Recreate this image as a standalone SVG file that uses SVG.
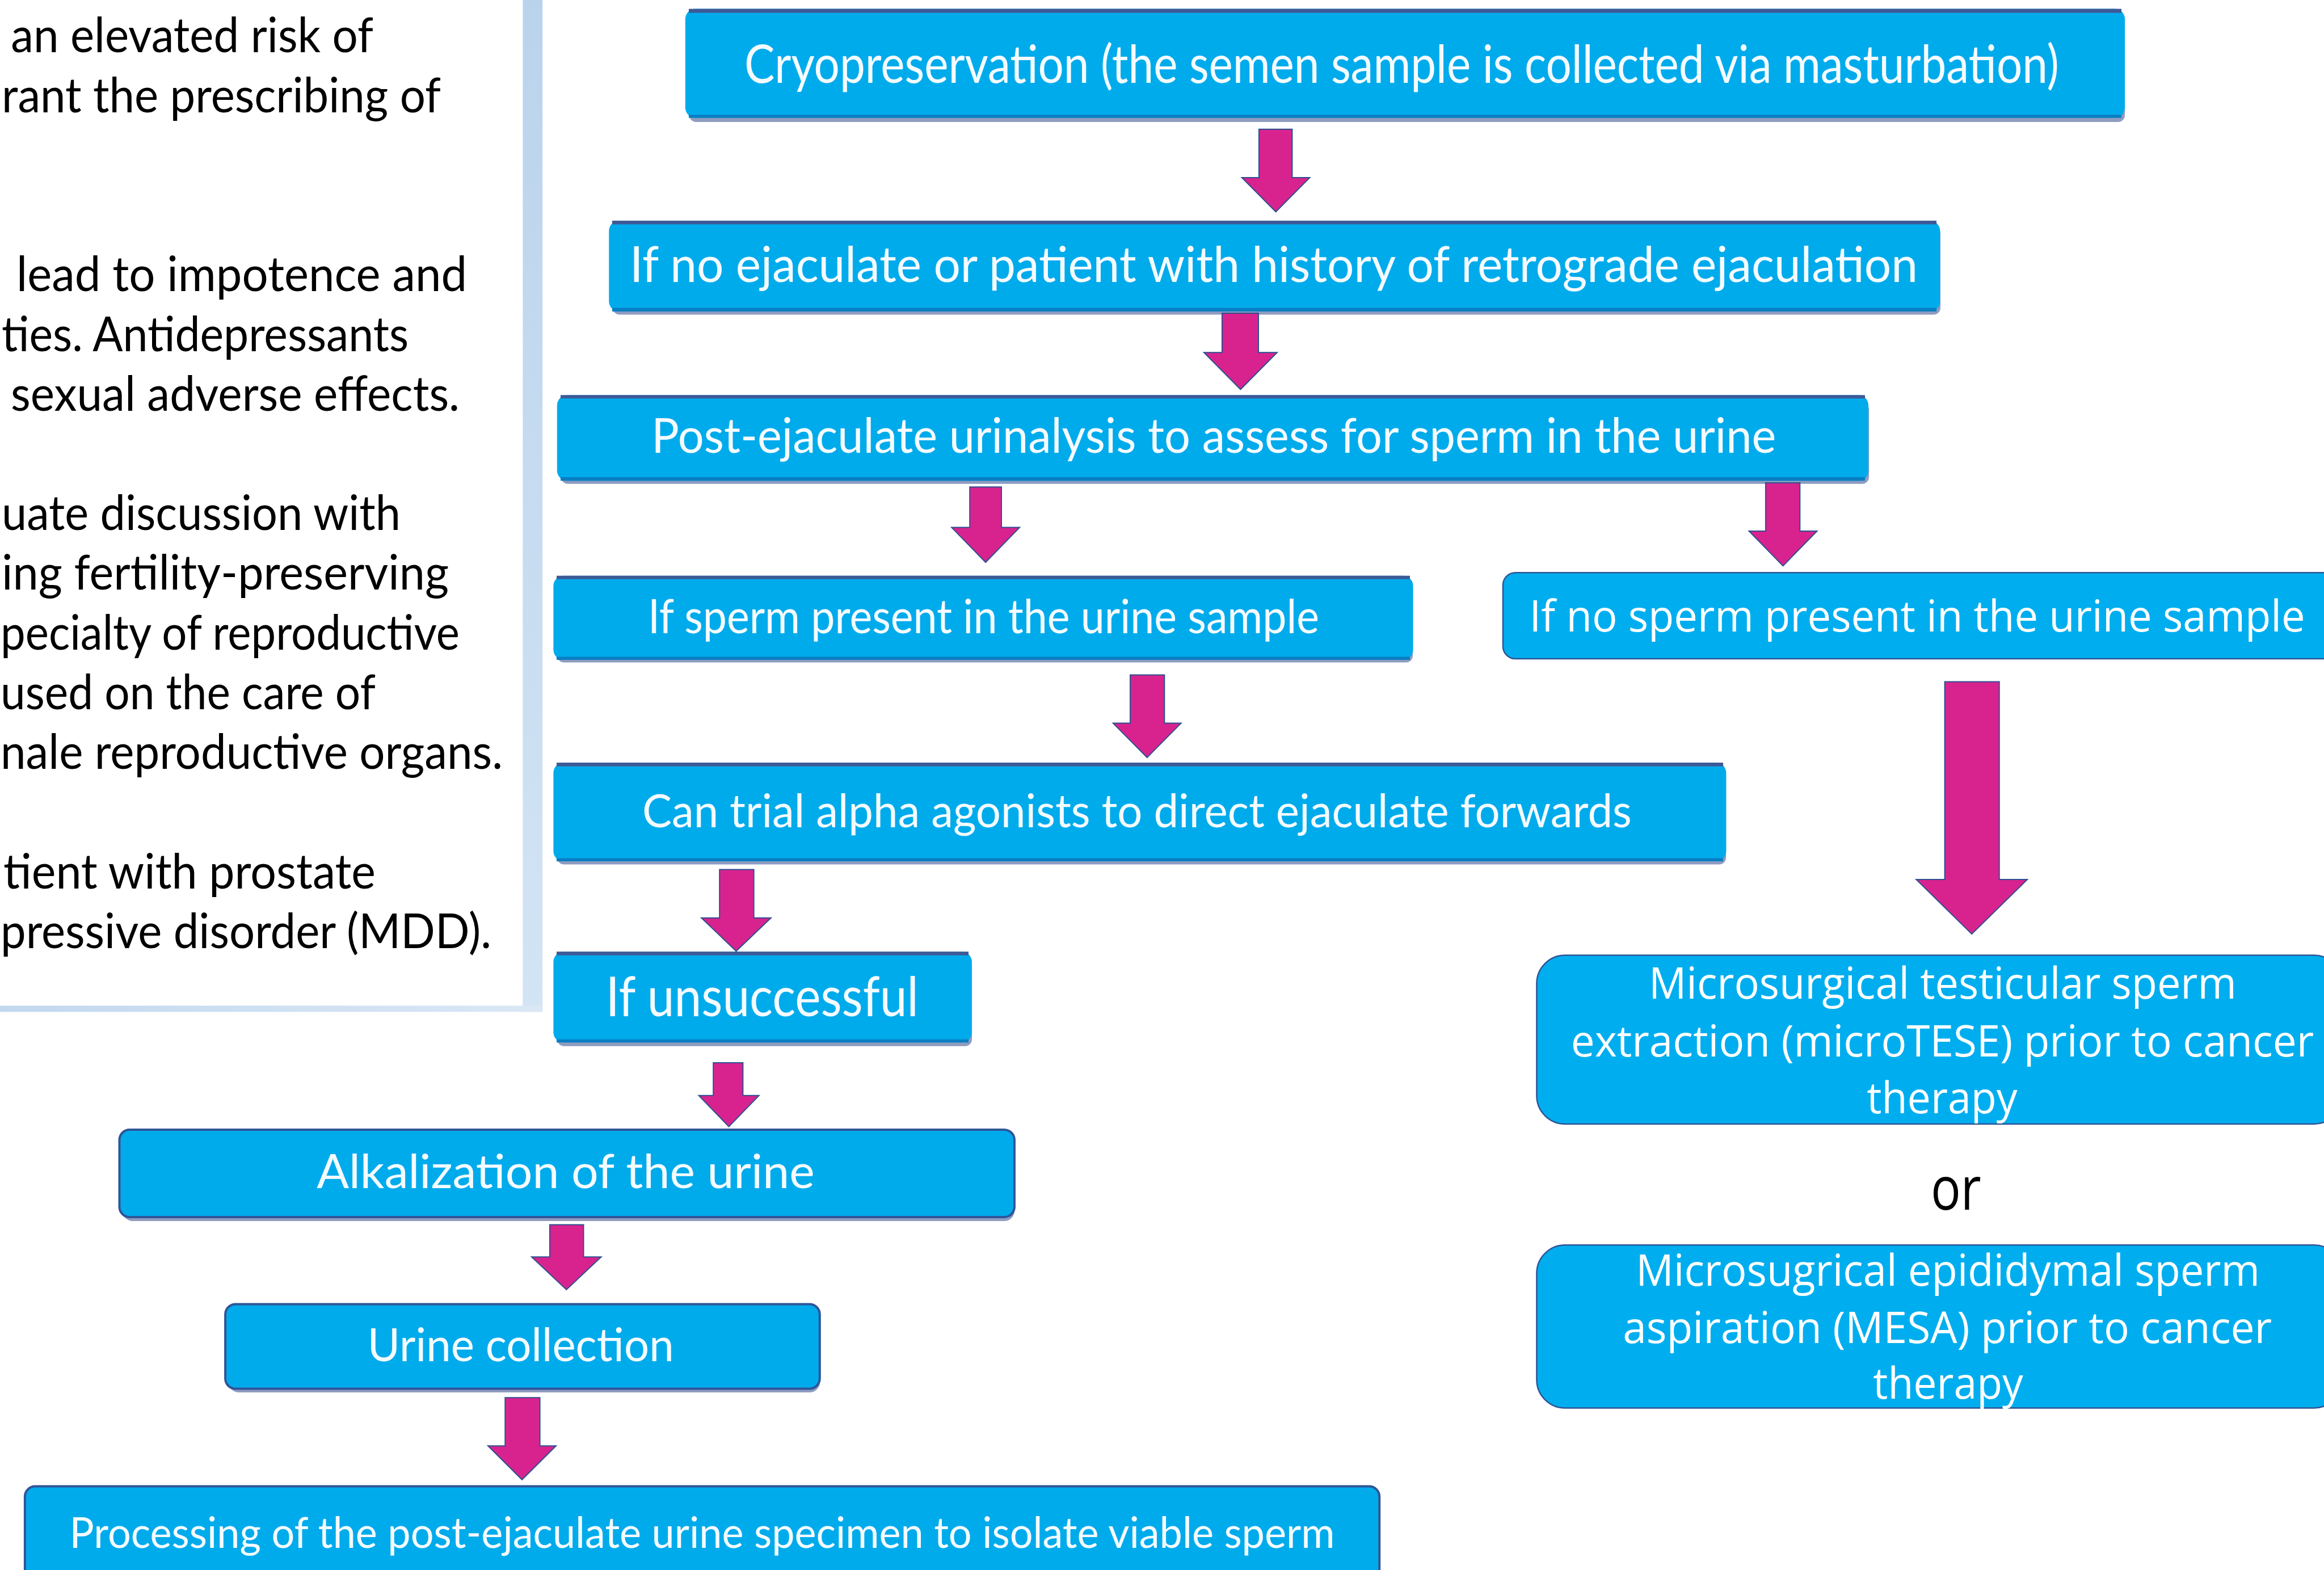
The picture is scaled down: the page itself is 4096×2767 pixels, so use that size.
<svg xmlns="http://www.w3.org/2000/svg" width="4096" height="2767" viewBox="0 0 4096 2767">
<defs>
<linearGradient id="gv" x1="0" y1="0" x2="0" y2="1"><stop offset="0" stop-color="#BAD3EC"/><stop offset="1" stop-color="#D3E4F4"/></linearGradient>
<linearGradient id="gh" x1="0" y1="0" x2="1" y2="0"><stop offset="0" stop-color="#C2D8EF"/><stop offset="1" stop-color="#DAE7F5"/></linearGradient>
<style>
.pt{font-family:Lato,"Open Sans",sans-serif;font-size:86px;fill:#000}
.shd{fill:#8E9CC0}
.body{fill:#00ABEC}
.topb{fill:#3E5A96}
.botb{fill:#0A7EC2}
.rbox{fill:#00ABEC;stroke:#2F5597;stroke-width:4}
.ct{font-family:Lato,"Liberation Sans",sans-serif;fill:#F4FBFF}
.rb{fill:#00AEEF;stroke:#2F5597;stroke-width:2.5}
.rt{font-family:"Open Sans",Lato,sans-serif;font-size:77px;fill:#FFFFFF}
.arr{fill:#D8238F;stroke:#2E4F8F;stroke-width:2;stroke-linejoin:miter}
</style>
</defs>
<rect x="0" y="0" width="4096" height="2767" fill="#FFFFFF"/>

<g id="left-panel">
<rect x="921.4" y="0" width="34.8" height="1783.3" fill="url(#gv)"/>
<rect x="0" y="1772.4" width="956.2" height="10.9" fill="url(#gh)"/>
<text class="pt" x="19.2" y="92.4" textLength="638.8" lengthAdjust="spacingAndGlyphs">an elevated risk of</text>
<text class="pt" x="3" y="197.6" textLength="774" lengthAdjust="spacingAndGlyphs">rant the prescribing of</text>
<text class="pt" x="29" y="513.3" textLength="794" lengthAdjust="spacingAndGlyphs">lead to impotence and</text>
<text class="pt" x="3" y="618.5" textLength="717" lengthAdjust="spacingAndGlyphs">ties. Antidepressants</text>
<text class="pt" x="19" y="723.8" textLength="791" lengthAdjust="spacingAndGlyphs">sexual adverse effects.</text>
<text class="pt" x="3" y="934.2" textLength="703" lengthAdjust="spacingAndGlyphs">uate discussion with</text>
<text class="pt" x="3" y="1039.4" textLength="788" lengthAdjust="spacingAndGlyphs">ing fertility-preserving</text>
<text class="pt" x="1" y="1144.7" textLength="809" lengthAdjust="spacingAndGlyphs">pecialty of reproductive</text>
<text class="pt" x="1" y="1249.9" textLength="661" lengthAdjust="spacingAndGlyphs">used on the care of</text>
<text class="pt" x="1" y="1355.1" textLength="885" lengthAdjust="spacingAndGlyphs">nale reproductive organs.</text>
<text class="pt" x="6" y="1565.6" textLength="656" lengthAdjust="spacingAndGlyphs">tient with prostate</text>
<text class="pt" x="1" y="1670.8" textLength="865" lengthAdjust="spacingAndGlyphs">pressive disorder (MDD).</text>
</g>

<g id="n-cryo">
<rect class="shd" x="1215" y="30" width="2530" height="185" rx="12"/>
<rect class="body" x="1207.8" y="15.6" width="2537.3" height="192.1" rx="18"/>
<rect class="topb" x="1214" y="15.6" width="2525" height="7"/>
<rect class="botb" x="1214" y="202.2" width="2525" height="5.5"/>
<text class="ct" x="1312.1" y="146.4" font-size="94" textLength="2316.8" lengthAdjust="spacingAndGlyphs">Cryopreservation (the semen sample is collected via masturbation)</text>
</g>

<g id="n-noejac">
<rect class="shd" x="1080" y="400" width="2340" height="154.5" rx="12"/>
<rect class="body" x="1073.3" y="388.9" width="2346.1" height="160.1" rx="18"/>
<rect class="topb" x="1079" y="388.9" width="2334" height="6.5"/>
<rect class="botb" x="1079" y="542.6" width="2334" height="6.4"/>
<text class="ct" x="1109.9" y="496.8" font-size="88" textLength="2270.1" lengthAdjust="spacingAndGlyphs">If no ejaculate or patient with history of retrograde ejaculation</text>
</g>

<g id="n-urinalysis">
<rect class="shd" x="989" y="710" width="2305" height="142.8" rx="12"/>
<rect class="body" x="981.8" y="696.3" width="2311.3" height="151" rx="18"/>
<rect class="topb" x="988" y="696.3" width="2299" height="6"/>
<rect class="botb" x="988" y="840.9" width="2299" height="6.4"/>
<text class="ct" x="1148.3" y="797.9" font-size="86" textLength="1981.9" lengthAdjust="spacingAndGlyphs">Post-ejaculate urinalysis to assess for sperm in the urine</text>
</g>

<g id="n-sperm-present">
<rect class="shd" x="982" y="1025" width="1508" height="142.5" rx="12"/>
<rect class="body" x="975.4" y="1014.7" width="1515.2" height="148.3" rx="18"/>
<rect class="topb" x="981" y="1014.7" width="1504" height="6"/>
<rect class="botb" x="981" y="1157.5" width="1504" height="5.5"/>
<text class="ct" x="1141.9" y="1116.3" font-size="84" textLength="1183.1" lengthAdjust="spacingAndGlyphs">If sperm present in the urine sample</text>
</g>

<g id="n-no-sperm">
<rect class="rb" x="2648.9" y="1009.2" width="1480" height="151.9" rx="22"/>
<text class="rt" x="2695.6" y="1112.6" textLength="1367" lengthAdjust="spacingAndGlyphs">If no sperm present in the urine sample</text>
</g>

<g id="n-alpha">
<rect class="shd" x="982" y="1355" width="2060" height="168.5" rx="12"/>
<rect class="body" x="975.4" y="1344.1" width="2067" height="173.9" rx="18"/>
<rect class="topb" x="981" y="1344.1" width="2056" height="6.5"/>
<rect class="botb" x="981" y="1512.5" width="2056" height="5.5"/>
<text class="ct" x="1131.9" y="1457.6" font-size="82" textLength="1743.9" lengthAdjust="spacingAndGlyphs">Can trial alpha agonists to direct ejaculate forwards</text>
</g>

<g id="n-unsuccessful">
<rect class="shd" x="982" y="1690" width="731" height="153.7" rx="12"/>
<rect class="body" x="975.4" y="1677.2" width="737.5" height="160.1" rx="18"/>
<rect class="topb" x="981" y="1677.2" width="726" height="6.5"/>
<rect class="botb" x="981" y="1831.8" width="726" height="5.5"/>
<text class="ct" x="1067.8" y="1790.7" font-size="97" textLength="550.8" lengthAdjust="spacingAndGlyphs">If unsuccessful</text>
</g>

<g id="n-alkalization">
<rect class="shd" x="216" y="2000" width="1572" height="152" rx="18"/>
<rect class="rbox" x="210.5" y="1991" width="1577.4" height="154" rx="18"/>
<text class="ct" x="558.2" y="2094.4" font-size="84" textLength="877.4" lengthAdjust="spacingAndGlyphs">Alkalization of the urine</text>
</g>

<g id="n-urine-collection">
<rect class="shd" x="403" y="2308" width="1042" height="146" rx="18"/>
<rect class="rbox" x="397.1" y="2298.5" width="1047.7" height="149" rx="18"/>
<text class="ct" x="647.8" y="2399.1" font-size="82" textLength="539.9" lengthAdjust="spacingAndGlyphs">Urine collection</text>
</g>

<g id="n-processing">
<rect class="rbox" x="43.9" y="2619.6" width="2387.3" height="200" rx="18"/>
<text class="ct" x="122.6" y="2727.6" font-size="75" textLength="2229.9" lengthAdjust="spacingAndGlyphs">Processing of the post-ejaculate urine specimen to isolate viable sperm</text>
</g>

<g id="n-microtese">
<rect class="rb" x="2708.4" y="1683.6" width="1420" height="297.4" rx="50"/>
<text class="rt" x="2906" y="1759.5" textLength="1035.8" lengthAdjust="spacingAndGlyphs">Microsurgical testicular sperm</text>
<text class="rt" x="2768.8" y="1862" textLength="1309.4" lengthAdjust="spacingAndGlyphs">extraction (microTESE) prior to cancer</text>
<text class="rt" x="3290.3" y="1961.8" textLength="265.4" lengthAdjust="spacingAndGlyphs">therapy</text>
</g>

<g id="n-or">
<text x="3402.9" y="2132" font-family="'Open Sans',Lato,sans-serif" font-size="106" fill="#000" textLength="88.8" lengthAdjust="spacingAndGlyphs">or</text>
</g>

<g id="n-mesa">
<rect class="rb" x="2708.4" y="2194.2" width="1420" height="287.3" rx="50"/>
<text class="rt" x="2883.2" y="2265.5" textLength="1099.8" lengthAdjust="spacingAndGlyphs">Microsugrical epididymal sperm</text>
<text class="rt" x="2860.3" y="2367.1" textLength="1143.8" lengthAdjust="spacingAndGlyphs">aspiration (MESA) prior to cancer</text>
<text class="rt" x="3301.3" y="2465" textLength="264.4" lengthAdjust="spacingAndGlyphs">therapy</text>
</g>

<g id="connectors">
<polygon class="arr" points="2218.9,227.8 2277.4,227.8 2277.4,312.9 2308.5,312.9 2248.6,373.3 2188.7,312.9 2218.9,312.9"/>
<polygon class="arr" points="2153.9,552 2218,552 2218,621.3 2250.9,621.3 2186.4,686.3 2121.9,621.3 2153.9,621.3"/>
<polygon class="arr" points="1709.2,858.3 1765,858.3 1765,929.6 1797.1,929.6 1737.1,991 1677.2,929.6 1709.2,929.6"/>
<polygon class="arr" points="3111.9,851 3172.3,851 3172.3,936 3202.5,936 3142.5,997.4 3082.6,936 3111.9,936"/>
<polygon class="arr" points="1992,1189.5 2052.3,1189.5 2052.3,1274.6 2081.6,1274.6 2021.7,1335 1961.8,1274.6 1992,1274.6"/>
<polygon class="arr" points="1268.2,1532.6 1328.6,1532.6 1328.6,1617.7 1358.8,1617.7 1297.5,1676.3 1236.2,1617.7 1268.2,1617.7"/>
<polygon class="arr" points="1257.2,1873 1309.4,1873 1309.4,1930.7 1337.7,1930.7 1284.6,1985.6 1231.6,1930.7 1257.2,1930.7"/>
<polygon class="arr" points="969,2158.5 1028.5,2158.5 1028.5,2215.2 1059.6,2215.2 998.3,2272.9 937,2215.2 969,2215.2"/>
<polygon class="arr" points="890.3,2463.2 951.6,2463.2 951.6,2548.3 980,2548.3 920,2607.8 860.1,2548.3 890.3,2548.3"/>
<polygon class="arr" points="3427.6,1201.4 3523.7,1201.4 3523.7,1550 3573.1,1550 3475.2,1646.1 3377.3,1550 3427.6,1550"/>
</g>
</svg>
